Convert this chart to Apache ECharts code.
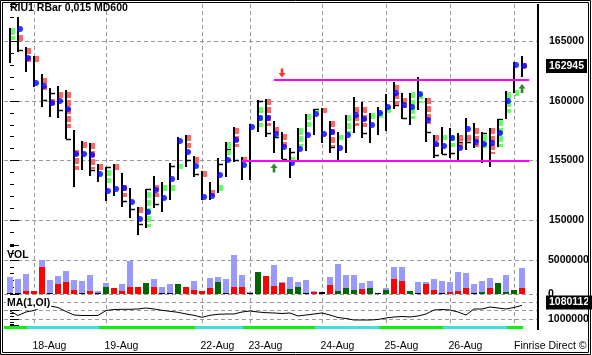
<!DOCTYPE html>
<html lang="en">
<head>
    <meta charset="UTF-8">
    <title>RIU1 RBar</title>
    <script src="https://cdn.jsdelivr.net/npm/echarts@6/dist/echarts.min.js"></script>
    <style>
        html, body { margin: 0; padding: 0; background: #fff; }
    </style>
</head>
<body>
<div id="main" style="width: 592px;height:355px;"></div>
<script type="text/javascript">
    // day boundaries (bar index where a new day starts) and their labels
    var dayStarts = [3, 12, 24, 30, 39, 47, 55, 63];
    var dayLabels = ['18-Aug', '19-Aug', '22-Aug', '23-Aug', '24-Aug', '25-Aug', '26-Aug', ''];

    // price bars, one entry per bar
    var barHigh = [166130, 167060, 164540, 163780, 162270, 161090, 161260, 160920, 157560, 156640,
        156470, 154710, 154460, 154710, 153950, 152690, 151100, 152610, 153700, 153200,
        154790, 156980, 157140, 155380, 154120, 153200, 155210, 156560, 157820, 155300,
        158070, 160080, 160170, 158320, 157400, 156050, 157730, 158910, 159330, 159410,
        158320, 157400, 158820, 160340, 159920, 158990, 159500, 160590, 161600, 160670,
        160670, 162020, 160250, 157140, 157820, 157730, 157310, 158570, 158150, 157400,
        157730, 158490, 160840, 163280, 163780];
    var barLow = [163190, 164120, 162440, 161180, 159500, 158660, 158570, 156810, 152780, 154200,
        153700, 153200, 151600, 152020, 151100, 150170, 148740, 149330, 151010, 150680,
        151680, 153360, 154460, 153620, 151680, 151680, 152270, 153620, 154880, 153360,
        153360, 157400, 156980, 155630, 155130, 153530, 155040, 155800, 157140, 156470,
        155630, 154880, 155630, 157310, 156890, 156470, 157140, 157480, 159330, 158490,
        157980, 159240, 156560, 155210, 155550, 155210, 155040, 155880, 156050, 154790,
        154460, 156140, 158490, 160670, 162020];
    var bodyOpen = [165120, 165540, 164450, 163780, 161930, 160170, 160760, 160760, 155880, 156560,
        156470, 154710, 153110, 154710, 152940, null, 151100, 149420, 152940, 152440,
        152440, 154290, 157140, 155300, 154120, 152520, 152440, 155460, 157730, 155300,
        null, 157820, 160170, 157820, 157230, 154880, 156140, 157820, 159080, 159410,
        158320, 156720, 157310, 159500, 159500, 158400, 158400, 158990, 161340, 160250,
        158490, 159830, 160250, 157140, 156720, 156140, 157140, 157140, 157730, 156050,
        157730, 156140, 158990, 160340, 163190];
    var bodyClose = [166130, 165040, 163280, 163280, 160920, 159660, 160250, 157730, 154200, 156050,
        154290, 154200, 154200, 154200, 151940, null, 150590, 152360, 151940, 152940,
        152940, 154710, 156050, 154790, 153620, 151850, 152940, 156560, 156140, 154880,
        null, 159500, 157900, 157310, 156140, 155300, 157730, 158910, 159240, 158990,
        156140, 157140, 158820, 157900, 157820, 158990, 159080, 159500, 159660, 159500,
        160760, 160670, 158150, 156140, 157140, 157140, 156140, 156470, 156140, 157140,
        155550, 158400, 160670, 160920, 162770];
    var barTick = [165710, 164280, null, null, 160080, 160670, 159240, 156810, null, null,
        154200, null, 154460, null, 151600, 150930, 149670, 152610, 151350, 152860,
        154540, null, 155040, 153870, null, null, 154710, 155970, 155040, null,
        null, 160000, 157310, 156980, 155130, 155720, 157310, 158660, 159330, null,
        156140, 156890, null, 159240, 157310, 158910, null, null, 159660, 158570,
        null, null, 157400, 155460, 155550, 155630, 156560, 156560, null, 157310,
        null, 158490, 160670, null, null];
    var barDot = [null, 166050, 163610, 161510, 161260, 159830, 160000, 159330, 155550, 155550,
        155460, 153870, 152440, 152610, 152690, 151520, 150090, 150680, 152520, 151850,
        153450, 156640, 155720, 154540, 151940, 152020, 153780, 155040, 156720, 154620,
        157820, 158570, 158570, 157230, 156140, 154790, 155970, 157140, 158910, 157230,
        157400, 156050, 157140, 158820, 158490, 157980, 158990, 159500, 160670, 159660,
        159500, 160590, 158400, 156390, 156220, 156890, 156050, 157650, 156560, 156390,
        156470, 157310, 160000, 163020, 162945];
    var lastPrice = 162945;

    // support / resistance levels and signal arrows
    var levelPrice = [161770, 155000];
    var levelFrom = [33, 29];
    var levelTo = [64.9, 64.9];
    var arrowIdx = [34, 33, 64];
    var arrowPrice = [162350, 154370, 161050];
    var arrowDir = ['down', 'up', 'up'];

    // volume: total (lavender) and coloured part
    var volTotal = [2550000, 2200000, 3000000, 500000, 5000000, 2050000, 2650000, 3400000, 2050000, 1900000,
        2850000, 450000, 1650000, 900000, 1500000, 4900000, 1030000, 1600000, 2200000, 1030000,
        1500000, 1500000, 1030000, 1850000, 450000, 2350000, 2500000, 2200000, 5700000, 2850000,
        350000, 3300000, 2700000, 4250000, 1700000, 2500000, 1750000, 2050000, 450000, 250000,
        2500000, 4400000, 2800000, 2800000, 1600000, 1900000, 100000, 900000, 4000000, 4000000,
        450000, 1750000, 1750000, 2200000, 1900000, 1750000, 3250000, 3100000, 1450000, 1900000,
        2350000, 1600000, 2800000, 600000, 3800000];
    var volPart = [150000, 150000, 500000, 500000, 3900000, 150000, 1500000, 1800000, 600000, 150000,
        450000, 150000, 1070000, 900000, 450000, 1030000, 1030000, 1600000, 1030000, 150000,
        150000, 1500000, 1030000, 600000, 450000, 930000, 1800000, 150000, 1030000, 1030000,
        200000, 3300000, 2700000, 1200000, 1550000, 730000, 1030000, 150000, 300000, 250000,
        1350000, 450000, 900000, 600000, 730000, 900000, 100000, 600000, 2200000, 1900000,
        450000, 150000, 1450000, 600000, 150000, 300000, 450000, 900000, 150000, 250000,
        900000, 1600000, 250000, 600000, 900000];
    var volColor = ['k', 'k', 'r', 'r', 'r', 'k', 'r', 'r', 'r', 'k',
        'r', 'k', 'g', 'r', 'r', 'r', 'r', 'g', 'r', 'k',
        'k', 'g', 'r', 'r', 'r', 'r', 'g', 'k', 'r', 'r',
        'k', 'g', 'r', 'r', 'r', 'g', 'g', 'k', 'r', 'k',
        'r', 'g', 'g', 'g', 'r', 'g', 'k', 'g', 'r', 'r',
        'g', 'k', 'r', 'r', 'k', 'r', 'r', 'r', 'k', 'g',
        'r', 'g', 'g', 'g', 'r'];

    // open interest line MA(1,OI)
    var oi = [1047060, 1020590, 1041180, 1050000, 1070590, 1076470, 1067650, 1044120, 1023530, 1020590,
        1020590, 1020590, 1050000, 1055880, 1057060, 1057060, 1058820, 1064710, 1058820, 1051180,
        1045290, 1039410, 1029410, 1021760, 1010000, 1021760, 1027650, 1029410, 1029410, 1041180,
        1047060, 1041180, 1037060, 1035290, 1032350, 1035290, 1017650, 1023530, 1029410, 1035290,
        1023530, 1008820, 1002940, 994120, 994120, 994120, 997060, 1005880, 1011760, 1014710,
        1011760, 1017650, 1029410, 1052940, 1055880, 1052940, 1041180, 1023530, 1058820, 1058820,
        1070590, 1064710, 1058820, 1067650, 1080112];
    var lastOi = 1080112;

    var FONT = "'Liberation Sans', Arial, sans-serif";
    var volColors = {r: '#ff0000', g: '#006600', k: '#000000'};

    function dayOf(i) {
        var d = 0;
        for (var k = 0; k < dayStarts.length; k++) {
            if (i >= dayStarts[k]) d = k + 1;
        }
        return d;
    }

    var idx = [];
    for (var i = 0; i < barHigh.length; i++) idx.push(i);

    var dotData = [];
    for (var i = 0; i < barDot.length; i++) {
        if (barDot[i] != null) dotData.push([i, barDot[i]]);
    }

    var upPath = 'path://M4,0L8,5L5.5,5L5.5,10L2.5,10L2.5,5L0,5Z';
    var downPath = 'path://M2.5,0L5.5,0L5.5,5L8,5L4,10L0,5L2.5,5Z';
    var arrowData = arrowIdx.map(function (k, j) {
        return {
            value: [k, arrowPrice[j]],
            symbol: arrowDir[j] === 'up' ? upPath : downPath,
            itemStyle: {color: arrowDir[j] === 'up' ? '#006400' : '#ff0000'}
        };
    });

    var levelData = levelPrice.map(function (p, j) {
        return [{coord: [levelFrom[j], p]}, {coord: [levelTo[j], p]}];
    });

    function xAxisFor(g) {
        return {type: 'value', gridIndex: g, min: -0.75, max: 65.875, show: false};
    }

    // black box with white text shown right of the axis (current value)
    function valueBox(v, dy) {
        return {
            yAxis: v,
            lineStyle: {color: 'rgba(0,0,0,0)', width: 0, opacity: 1},
            label: {
                show: true, position: 'end', distance: 9, opacity: 1,
                formatter: String(v),
                backgroundColor: '#000', color: '#fff',
                fontWeight: 'bold', fontSize: 10.5, fontFamily: FONT,
                padding: [2, 3, 1, 3], offset: [0, dy]
            }
        };
    }

    var axisText = {color: '#000', fontWeight: 'bold', fontSize: 10.5, fontFamily: FONT};
    var dashed = {color: '#999', type: [4, 3], width: 1};

    var myChart = echarts.init(document.getElementById('main'));
    myChart.setOption({
        animation: false,
        grid: [
            {left: 4, right: 55, top: 4, height: 241},
            {left: 4, right: 55, top: 245, height: 49},
            {left: 4, right: 55, top: 297, height: 28},
            {left: 4, right: 55, top: 326, height: 3},
            {left: 4, right: 55, top: 4, height: 321}
        ],
        xAxis: [xAxisFor(0), xAxisFor(1), xAxisFor(2), xAxisFor(3), xAxisFor(4)],
        yAxis: [
            {
                type: 'value', gridIndex: 0, position: 'right',
                min: 147900, max: 168150, splitNumber: 4,
                axisLine: {show: false},
                axisTick: {show: true, length: 9, lineStyle: {color: '#000'}},
                minorTick: {show: true, splitNumber: 5, length: 4, lineStyle: {color: '#000'}},
                axisLabel: Object.assign({
                    margin: 12,
                    formatter: function (v) { return v % 5000 === 0 ? String(v) : ''; }
                }, axisText),
                splitLine: {show: true, showMinLine: false, showMaxLine: false, lineStyle: dashed}
            },
            {
                type: 'value', gridIndex: 1, position: 'right',
                min: 0, max: 7200000, interval: 5000000,
                axisLine: {show: false},
                axisTick: {show: true, length: 9, lineStyle: {color: '#000'}},
                minorTick: {show: true, splitNumber: 5, length: 4, lineStyle: {color: '#000'}},
                axisLabel: Object.assign({
                    margin: 11,
                    formatter: function (v) { return v % 5000000 === 0 ? String(v) : ''; }
                }, axisText),
                splitLine: {show: true, showMaxLine: false, lineStyle: dashed}
            },
            {
                type: 'value', gridIndex: 2, position: 'right',
                min: 964700, max: 1129400, splitNumber: 3,
                axisLine: {show: false},
                axisTick: {show: true, length: 9, lineStyle: {color: '#000'}},
                minorTick: {show: true, splitNumber: 3, length: 4, lineStyle: {color: '#000'}},
                axisLabel: Object.assign({
                    margin: 11,
                    formatter: function (v) { return v === 1000000 ? '1000000' : ''; }
                }, axisText),
                splitLine: {show: true, showMinLine: false, showMaxLine: false, lineStyle: dashed}
            },
            {type: 'value', gridIndex: 3, min: 0, max: 1, show: false},
            {type: 'value', gridIndex: 4, min: 0, max: 1, show: false}
        ],
        series: [
            {
                // day separators and date labels
                type: 'custom', name: 'days', xAxisIndex: 4, yAxisIndex: 4, z: 1,
                silent: true,
                data: dayStarts.map(function (d) { return [d, 0]; }),
                renderItem: function (params, api) {
                    var c = api.coord([api.value(0), 0]);
                    var x = Math.round(c[0]) + 0.5;
                    var cs = params.coordSys;
                    return {
                        type: 'group',
                        children: [
                            {
                                type: 'line',
                                shape: {x1: x, y1: cs.y, x2: x, y2: cs.y + cs.height},
                                style: {stroke: '#999', lineWidth: 1, lineDash: [4, 3]}
                            },
                            {
                                type: 'text',
                                x: x - 2, y: 346,
                                style: {
                                    text: dayLabels[params.dataIndex], fill: '#000',
                                    font: '10.5px ' + FONT, align: 'left', verticalAlign: 'middle'
                                }
                            }
                        ]
                    };
                }
            },
            {
                // price bars: high-low line, tick and segmented body
                type: 'custom', name: 'bars', xAxisIndex: 0, yAxisIndex: 0, z: 3,
                silent: true,
                data: idx.map(function (i) { return [i, barHigh[i], barLow[i]]; }),
                renderItem: function (params, api) {
                    var i = params.dataIndex;
                    var top = api.coord([i, barHigh[i]]);
                    var bot = api.coord([i, barLow[i]]);
                    var x = Math.round(top[0]);
                    var children = [{
                        type: 'line',
                        shape: {x1: x, y1: Math.round(top[1]), x2: x, y2: Math.round(bot[1])},
                        style: {stroke: '#000', lineWidth: 2}
                    }];
                    if (barTick[i] != null) {
                        var t = api.coord([i, barTick[i]]);
                        var ty = Math.round(t[1]) + 0.5;
                        children.push({
                            type: 'line',
                            shape: {x1: x, y1: ty, x2: x + 5, y2: ty},
                            style: {stroke: '#000', lineWidth: 1.5}
                        });
                    }
                    if (bodyOpen[i] != null && bodyOpen[i] !== bodyClose[i]) {
                        var a = api.coord([i, bodyOpen[i]])[1];
                        var b = api.coord([i, bodyClose[i]])[1];
                        var y1 = Math.round(Math.min(a, b));
                        var y2 = Math.round(Math.max(a, b));
                        var col = bodyClose[i] > bodyOpen[i] ? '#66ff66' : '#ff6666';
                        for (var y = y1; y < y2; y += 8) {
                            children.push({
                                type: 'rect',
                                shape: {x: x + 1, y: y, width: 4, height: Math.max(2, Math.min(6, y2 - y))},
                                style: {fill: col}
                            });
                        }
                    }
                    return {type: 'group', children: children};
                }
            },
            {
                type: 'scatter', name: 'dots', xAxisIndex: 0, yAxisIndex: 0, z: 4,
                silent: true,
                symbol: 'circle', symbolSize: 6, symbolOffset: [2, 0],
                itemStyle: {color: '#0000ff'},
                data: dotData,
                markLine: {
                    silent: true,
                    symbol: ['none', 'none'],
                    label: {show: false},
                    lineStyle: {color: '#ff00ff', width: 2, type: 'solid'},
                    data: levelData.concat([valueBox(lastPrice, 0)])
                }
            },
            {
                type: 'scatter', name: 'arrows', xAxisIndex: 0, yAxisIndex: 0, z: 5,
                silent: true,
                symbolSize: [7, 9],
                data: arrowData
            },
            {
                // volume panel
                type: 'custom', name: 'vol', xAxisIndex: 1, yAxisIndex: 1, z: 3,
                silent: true,
                data: idx.map(function (i) { return [i, volTotal[i]]; }),
                renderItem: function (params, api) {
                    var i = params.dataIndex;
                    var base = api.coord([i, 0]);
                    var t = api.coord([i, volTotal[i]]);
                    var p = api.coord([i, volPart[i]]);
                    var x = Math.round(base[0]) - 3;
                    var y0 = Math.round(base[1]);
                    var ty = Math.round(t[1]);
                    var py = Math.min(Math.round(p[1]), y0 - 1);
                    return {
                        type: 'group',
                        children: [
                            {type: 'rect', shape: {x: x, y: ty, width: 6, height: y0 - ty}, style: {fill: '#9999ff'}},
                            {type: 'rect', shape: {x: x, y: py, width: 6, height: y0 - py}, style: {fill: volColors[volColor[i]]}}
                        ]
                    };
                }
            },
            {
                type: 'line', name: 'MA(1,OI)', xAxisIndex: 2, yAxisIndex: 2, z: 3,
                silent: true,
                showSymbol: false,
                lineStyle: {color: '#000', width: 1},
                data: idx.map(function (i) { return [i, oi[i]]; }),
                markLine: {
                    silent: true,
                    symbol: ['none', 'none'],
                    data: [valueBox(lastOi, -3)]
                }
            },
            {
                // day colour strip
                type: 'custom', name: 'strip', xAxisIndex: 3, yAxisIndex: 3, z: 2,
                silent: true,
                data: idx.map(function (i) { return [i, 0]; }),
                renderItem: function (params, api) {
                    var i = params.dataIndex;
                    var cs = params.coordSys;
                    var x0 = i === 0 ? cs.x : Math.round(api.coord([i - 1, 0])[0]) + 1;
                    var x1 = Math.round(api.coord([i, 0])[0]) + 1;
                    return {
                        type: 'rect',
                        shape: {x: x0, y: cs.y, width: x1 - x0, height: cs.height},
                        style: {fill: dayOf(i) % 2 === 0 ? '#11ee11' : '#44dddd'}
                    };
                }
            }
        ],
        graphic: [
            {type: 'rect', shape: {x: 0.5, y: 0.5, width: 590, height: 354}, style: {fill: 'none', stroke: '#000', lineWidth: 1}, z: 100},
            {type: 'rect', shape: {x: 2.5, y: 2.5, width: 586, height: 350}, style: {fill: 'none', stroke: '#000', lineWidth: 1}, z: 100},
            {type: 'line', shape: {x1: 538, y1: 4, x2: 538, y2: 330}, style: {stroke: '#000', lineWidth: 2}, z: 100},
            {
                type: 'text', x: 10, y: 8, z: 100,
                style: {text: 'RIU1 RBar 0,015 MD600', fill: '#000', font: 'bold 10.5px ' + FONT, align: 'left', verticalAlign: 'middle'}
            },
            {
                type: 'text', x: 7, y: 255, z: 100,
                style: {text: 'VOL', fill: '#000', font: 'bold 10.5px ' + FONT, align: 'left', verticalAlign: 'middle'}
            },
            {
                type: 'text', x: 6, y: 303, z: 100,
                style: {
                    text: 'MA(1,OI)', fill: '#000', font: 'bold 10.5px ' + FONT, align: 'left', verticalAlign: 'middle',
                    backgroundColor: '#fff', padding: [1, 1, 0, 1]
                }
            },
            {
                type: 'text', x: 514, y: 346, z: 100,
                style: {text: 'Finrise Direct \u00a9', fill: '#000', font: '10.5px ' + FONT, align: 'left', verticalAlign: 'middle'}
            }
        ]
    });
</script>
</body>
</html>
